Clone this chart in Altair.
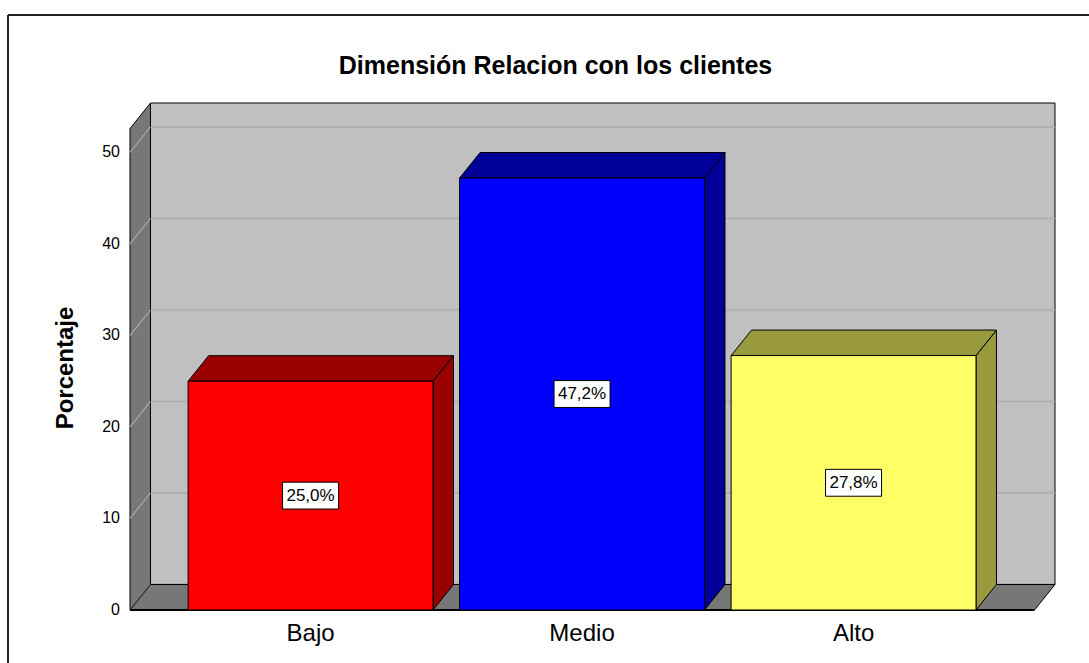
import json
import altair as alt
import pandas as pd

# ---------------- data ----------------
categories = ["Bajo", "Medio", "Alto"]
percentages = [25.0, 47.2, 27.8]
front_colors = ["#ff0000", "#0000ff", "#ffff66"]
shade_colors = ["#990000", "#000099", "#99993d"]
y_ticks = [0, 10, 20, 30, 40, 50]
title_text = "Dimensión Relacion con los clientes"
y_title = "Porcentaje"

# ---------------- layout / style ----------------
W, H = 925, 507
X0, X1 = -0.665, 2.742      # x scale domain (category units)
Y_MAX = 55.4                # y scale domain max
DX, DY = 0.0755, 2.79       # 3D depth offset in scale units
HALF = 0.451                # half bar width
FONT = "Liberation Sans"
WALL = "#c0c0c0"
SIDE = "#777777"
GRID = "#acacac"

xs = alt.Scale(domain=[X0, X1], nice=False, zero=False)
ys = alt.Scale(domain=[0, Y_MAX], nice=False, zero=False)


def X(field="x"):
    return alt.X(f"{field}:Q", scale=xs, axis=None, stack=None)


def Y(field="y"):
    return alt.Y(f"{field}:Q", scale=ys, axis=None, stack=None)


# back wall
back = alt.Chart(pd.DataFrame([{"x": X0 + DX, "x2": X1, "y": DY, "y2": Y_MAX}])).mark_rect(
    fill=WALL, stroke="#000", strokeWidth=1
).encode(x=X(), x2="x2", y=Y(), y2="y2")

grid_back = alt.Chart(pd.DataFrame([{"x": X0 + DX, "x2": X1, "y": v + DY} for v in y_ticks[1:]])).mark_rule(
    stroke=GRID, strokeWidth=1.5
).encode(x=X(), x2="x2", y=Y())

side = alt.Chart(pd.DataFrame([
    {"x": X0, "y": Y_MAX - DY, "y2": 0},
    {"x": X0 + DX, "y": Y_MAX, "y2": DY},
])).mark_area(orient="vertical", fill=SIDE, stroke="#000", strokeWidth=1).encode(
    x=X(), y=Y(), y2="y2"
)

grid_side = alt.Chart(pd.DataFrame([{"x": X0, "y": v, "x2": X0 + DX, "y2": v + DY} for v in y_ticks])).mark_rule(
    stroke="#a8a8a8", strokeWidth=1.2
).encode(x=X(), x2="x2", y=Y(), y2="y2")

floor = alt.Chart(pd.DataFrame([
    {"y": 0, "x": X0, "x2": X1 - DX},
    {"y": DY, "x": X0 + DX, "x2": X1},
])).mark_area(orient="horizontal", fill=SIDE, stroke="#000", strokeWidth=1).encode(
    y=Y(), x=X(), x2="x2"
)

floor_edge = alt.Chart(pd.DataFrame([{"x": X0, "x2": X1 - DX, "y": 0}])).mark_rule(
    stroke="#000", strokeWidth=2
).encode(x=X(), x2="x2", y=Y())

# bars
side_rows, top_rows, front_rows = [], [], []
for i, (c, v, fc, sc) in enumerate(zip(categories, percentages, front_colors, shade_colors)):
    side_rows += [
        {"sid": c, "x": i + HALF, "y": v, "y2": 0, "color": sc},
        {"sid": c, "x": i + HALF + DX, "y": v + DY, "y2": DY, "color": sc},
    ]
    top_rows += [
        {"sid": c, "y": v, "x": i - HALF, "x2": i + HALF, "color": sc},
        {"sid": c, "y": v + DY, "x": i - HALF + DX, "x2": i + HALF + DX, "color": sc},
    ]
    front_rows.append({
        "cat": c, "x": i - HALF, "x2": i + HALF, "y": 0, "y2": v, "color": fc,
        "cx": i, "mid": v / 2, "label": f"{v:.1f}".replace(".", ",") + "%",
    })

bar_side = alt.Chart(pd.DataFrame(side_rows)).mark_area(
    orient="vertical", stroke="#000", strokeWidth=1
).encode(x=X(), y=Y(), y2="y2", detail="sid:N", fill=alt.Fill("color:N", scale=None))

bar_top = alt.Chart(pd.DataFrame(top_rows)).mark_area(
    orient="horizontal", stroke="#000", strokeWidth=1
).encode(y=Y(), x=X(), x2="x2", detail="sid:N", fill=alt.Fill("color:N", scale=None))

front_df = pd.DataFrame(front_rows)
bar_front = alt.Chart(front_df).mark_rect(stroke="#000", strokeWidth=1).encode(
    x=X(), x2="x2", y=Y(), y2="y2", fill=alt.Fill("color:N", scale=None)
)

BOX = "M-1,-0.48L1,-0.48L1,0.48L-1,0.48Z"
label_box = alt.Chart(front_df).mark_point(
    shape=BOX, size=56 * 56, filled=True, fill="#ffffff", stroke="#000",
    strokeWidth=1, opacity=1
).encode(x=X("cx"), y=Y("mid"))

label_text = alt.Chart(front_df).mark_text(
    font=FONT, fontSize=17, color="#000", align="center", baseline="middle"
).encode(x=X("cx"), y=Y("mid"), text="label:N")

# axis texts
tick_labels = alt.Chart(pd.DataFrame({"v": y_ticks, "t": [str(t) for t in y_ticks]})).mark_text(
    font=FONT, fontSize=16, color="#000", align="right", baseline="middle"
).encode(x=alt.value(-10), y=Y("v"), text="t:N")

cat_labels = alt.Chart(front_df).mark_text(
    font=FONT, fontSize=24, color="#000", align="center", baseline="top"
).encode(x=X("cx"), y=alt.value(H + 12), text="cat:N")

axis_title = alt.Chart(pd.DataFrame({"t": [y_title]})).mark_text(
    font=FONT, fontSize=24, fontWeight="bold", color="#000", align="center",
    baseline="middle", angle=270
).encode(x=alt.value(-64), y=alt.value(265), text="t:N")

title = alt.Chart(pd.DataFrame({"t": [title_text]})).mark_text(
    font=FONT, fontSize=25, fontWeight="bold", color="#000", align="center",
    baseline="alphabetic"
).encode(x=alt.value(425.5), y=alt.value(-29), text="t:N")

frame_df = pd.DataFrame({"k": [0]})
frame_top = alt.Chart(frame_df).mark_rule(stroke="#222", strokeWidth=2).encode(
    x=alt.value(-122), x2=alt.value(W + 60), y=alt.value(-88)
)
frame_left = alt.Chart(frame_df).mark_rule(stroke="#222", strokeWidth=2).encode(
    x=alt.value(-122), y=alt.value(-88), y2=alt.value(H + 80)
)

chart = alt.layer(
    back, grid_back, side, grid_side, floor, floor_edge,
    bar_side, bar_top, bar_front, label_box, label_text,
    tick_labels, cat_labels, axis_title, title, frame_top, frame_left,
).properties(
    width=W, height=H,
    autosize=alt.AutoSizeParams(type="none"),
    padding={"left": 130, "top": 103, "right": 34, "bottom": 53},
    background="#ffffff",
).configure_view(stroke=None)

chart.save("out.html", embed_options={"renderer": "svg", "actions": False})
